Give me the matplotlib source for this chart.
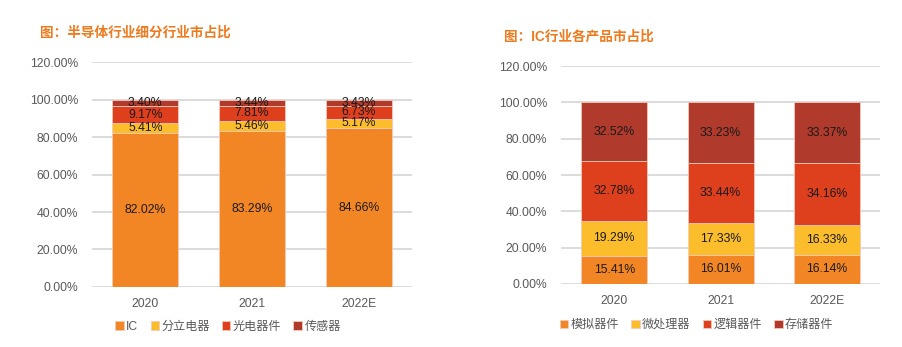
import numpy as np
import matplotlib
matplotlib.use('Agg')
import matplotlib.pyplot as plt

plt.rcParams['font.family'] = ['Liberation Sans', 'Noto Sans CJK SC', 'DejaVu Sans']

years = ['2020', '2021', '2022E']

# left chart: semiconductor segments
semi_names = ['IC', '分立电器', '光电器件', '传感器']
semi_ic = [82.02, 83.29, 84.66]
semi_discrete = [5.41, 5.46, 5.17]
semi_opto = [9.17, 7.81, 6.73]
semi_sensor = [3.40, 3.44, 3.43]

# right chart: IC products
ic_names = ['模拟器件', '微处理器', '逻辑器件', '存储器件']
ic_analog = [15.41, 16.01, 16.14]
ic_micro = [19.29, 17.33, 16.33]
ic_logic = [32.78, 33.44, 34.16]
ic_memory = [32.52, 33.23, 33.37]

colors = ['#F38624', '#FBBD2C', '#DE3F1D', '#B03A2B']
title_color = '#EE7A1E'
grid_color = '#D9D9D9'
tick_color = '#595959'


def stacked(ax, series, names):
    x = np.arange(len(years))
    bottom = np.zeros(len(years))
    for vals, name, c in zip(series, names, colors):
        v = np.array(vals) / 100
        ax.bar(x, v, 0.62, bottom=bottom, color=c, edgecolor='#F6C9B8',
               linewidth=0.6, label=name, zorder=3)
        for xi, bi, vi, raw in zip(x, bottom, v, vals):
            ax.text(xi, bi + vi / 2, f'{raw:.2f}%', ha='center', va='center',
                    fontsize=8.8, color='#1a1a1a', zorder=4)
        bottom += v
    ax.set_xlim(-0.5, 2.5)
    ax.set_ylim(0, 1.2)
    ticks = np.arange(0, 1.21, 0.2)
    ax.set_yticks(ticks)
    ax.set_yticklabels([f'{t * 100:.2f}%' for t in ticks])
    ax.set_xticks(x)
    ax.set_xticklabels(years)
    ax.tick_params(length=0, labelsize=8.7, colors=tick_color, pad=8)
    ax.tick_params(axis='y', pad=10)
    ax.grid(axis='y', color=grid_color, linewidth=1.3, zorder=0)
    for s in ax.spines.values():
        s.set_visible(False)


def legend(ax, y):
    ax.legend(loc='center', bbox_to_anchor=(0.425, y), ncol=4, frameon=False,
              fontsize=8.7, handlelength=0.7, handleheight=0.7, handletextpad=0.2,
              columnspacing=1.0, labelcolor=tick_color)


fig = plt.figure(figsize=(9.02, 3.47), dpi=100)

ax1 = fig.add_axes([0.102, 0.173, 0.355, 0.648])
stacked(ax1, [semi_ic, semi_discrete, semi_opto, semi_sensor], semi_names)
legend(ax1, -40 / 225)
fig.text(40 / 902, 1 - 33 / 347, '图：半导体行业细分行业市占比', color=title_color,
         fontsize=9.8, fontweight='bold', va='center', ha='left')

ax2 = fig.add_axes([0.622, 0.1816, 0.354, 0.628])
stacked(ax2, [ic_analog, ic_micro, ic_logic, ic_memory], ic_names)
legend(ax2, -41 / 218)
fig.text(504 / 902, 1 - 37 / 347, '图：IC行业各产品市占比', color=title_color,
         fontsize=9.8, fontweight='bold', va='center', ha='left')

fig.savefig('out.png', dpi=100)
